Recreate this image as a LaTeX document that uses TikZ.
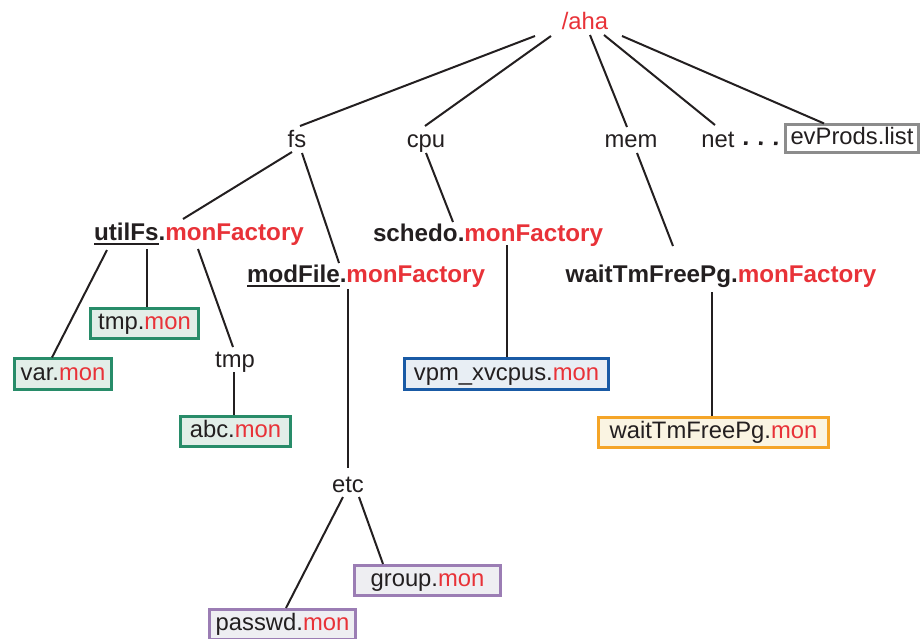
\documentclass[tikz,border=0pt]{standalone}
\usepackage{fontspec}
\setmainfont{Liberation Sans}
\definecolor{txtred}{RGB}{232,50,56}
\definecolor{ink}{RGB}{35,31,32}
\definecolor{grnb}{RGB}{40,140,105}
\definecolor{grnf}{RGB}{226,238,232}
\definecolor{blub}{RGB}{25,90,165}
\definecolor{bluf}{RGB}{232,238,244}
\definecolor{orab}{RGB}{245,165,40}
\definecolor{oraf}{RGB}{250,244,226}
\definecolor{purb}{RGB}{155,125,180}
\definecolor{purf}{RGB}{238,238,242}
\definecolor{gryb}{RGB}{140,140,140}
\newcommand\myul[1]{\setbox0\hbox{#1}\rlap{\color{ink}\rule[-5pt]{\wd0}{2pt}}\box0}
\newcommand\rd[1]{\textcolor{txtred}{#1}}
\begin{document}
\begin{tikzpicture}[x=1pt,y=-1pt,
  every node/.style={font=\fontsize{23.8}{28}\selectfont, text=ink},
  lbl/.style={inner sep=0pt, anchor=base},
  fac/.style={lbl, font=\fontsize{24.2}{28}\selectfont\bfseries},
  mbox/.style={draw, line width=2.6pt, minimum height=30.5pt, inner sep=0pt, text height=16.5pt, text depth=4.5pt},
  boxg/.style={mbox, draw=grnb, fill=grnf},
  boxb/.style={mbox, draw=blub, fill=bluf},
  boxo/.style={mbox, draw=orab, fill=oraf},
  boxp/.style={mbox, draw=purb, fill=purf},
  conn/.style={draw=ink, line width=2pt},
  dots/.style={draw=ink, line width=3.5pt, dash pattern=on 3.5pt off 11.5pt}]
\useasboundingbox (0,0) rectangle (924,638);
% labels
\node[lbl, text=txtred] (aha) at (585,29) {/aha};
\node[lbl] (fs) at (297,147) {fs};
\node[lbl] (cpu) at (426,147) {cpu};
\node[lbl] (mem) at (631,147) {mem};
\node[lbl] (net) at (718,147) {net};
\node[mbox, draw=gryb, fill=white, minimum width=133pt, minimum height=27.5pt] (evp) at (852,138.5) {evProds.list};
\node[fac] (utilfs) at (199,240) {\myul{utilFs}.\rd{monFactory}};
\node[fac] (schedo) at (488,241) {schedo.\rd{monFactory}};
\node[fac] (modfile) at (366,282) {\myul{modFile}.\rd{monFactory}};
\node[fac] (waitf) at (721,282) {waitTmFreePg.\rd{monFactory}};
\node[lbl] (tmp) at (235,367) {tmp};
\node[lbl] (etc) at (348,492) {etc};
% boxes
\node[boxg, minimum width=108pt] (tmpmon) at (144.5,323.5) {tmp.\rd{mon}};
\node[boxg, minimum width=97pt] (varmon) at (63,374) {var.\rd{mon}};
\node[boxg, minimum width=110pt] (abcmon) at (235.5,431.5) {abc.\rd{mon}};
\node[boxb, minimum width=204pt] (vpm) at (506.5,374) {vpm\_xvcpus.\rd{mon}};
\node[boxo, minimum width=230pt] (waitmon) at (713.5,432.5) {waitTmFreePg.\rd{mon}};
\node[boxp, minimum width=146pt] (group) at (427.5,580.5) {group.\rd{mon}};
\node[boxp, minimum width=146pt] (passwd) at (282.5,624.5) {passwd.\rd{mon}};
% connectors
\draw[conn] ([shift={(-50,7)}]aha.base) -- ([shift={(3,-21)}]fs.base);
\draw[conn] ([shift={(-34,7)}]aha.base) -- ([shift={(-1,-21)}]cpu.base);
\draw[conn] ([shift={(5,6)}]aha.base) -- ([shift={(-4,-20)}]mem.base);
\draw[conn] ([shift={(19,6)}]aha.base) -- ([shift={(-3,-22)}]net.base);
\draw[conn] ([shift={(37,7)}]aha.base) -- ([shift={(-28,0)}]evp.north);
\draw[dots] ([shift={(26,-4)}]net.base) -- ([shift={(-73,5)}]evp.center);
\draw[conn] ([shift={(-5,5)}]fs.base) -- ([shift={(-16,-21)}]utilfs.base);
\draw[conn] ([shift={(5,6)}]fs.base) -- ([shift={(-27,-19)}]modfile.base);
\draw[conn] ([shift={(0,6)}]cpu.base) -- ([shift={(-35,-19)}]schedo.base);
\draw[conn] ([shift={(6,6)}]mem.base) -- ([shift={(-48,-36)}]waitf.base);
\draw[conn] ([shift={(-92,10)}]utilfs.base) -- ([shift={(-11,0)}]varmon.north);
\draw[conn] ([shift={(-52,9)}]utilfs.base) -- ([shift={(2.5,0)}]tmpmon.north);
\draw[conn] ([shift={(-1,9)}]utilfs.base) -- ([shift={(-2,-20)}]tmp.base);
\draw[conn] ([shift={(-1,5)}]tmp.base) -- ([shift={(-1.5,0)}]abcmon.north);
\draw[conn] ([shift={(19,4)}]schedo.base) -- ([shift={(0.5,0)}]vpm.north);
\draw[conn] ([shift={(-9,10)}]waitf.base) -- ([shift={(-1.5,0)}]waitmon.north);
\draw[conn] ([shift={(-18,7)}]modfile.base) -- ([shift={(0,-24)}]etc.base);
\draw[conn] ([shift={(-5,5)}]etc.base) -- ([shift={(3.5,0)}]passwd.north);
\draw[conn] ([shift={(11,5)}]etc.base) -- ([shift={(-44.5,0)}]group.north);
\end{tikzpicture}
\end{document}
